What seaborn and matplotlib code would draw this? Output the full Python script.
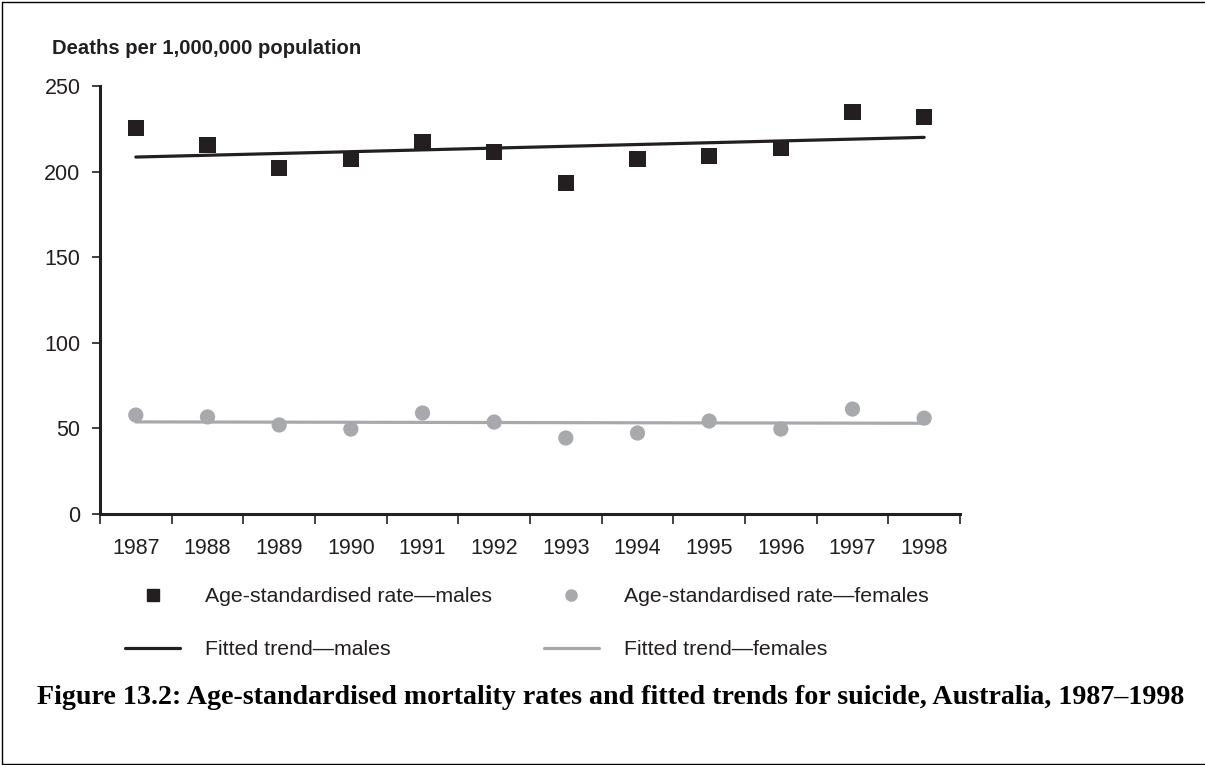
import matplotlib
matplotlib.use("Agg")
import matplotlib.pyplot as plt
from matplotlib.lines import Line2D
import seaborn as sns
import pandas as pd
import numpy as np

# ---- data ----
years = [1987, 1988, 1989, 1990, 1991, 1992, 1993, 1994, 1995, 1996, 1997, 1998]
males = [225.5, 215.5, 202.0, 207.4, 217.3, 211.4, 193.3, 207.4, 209.0, 213.8, 234.8, 231.9]
females = [57.8, 56.7, 52.0, 49.6, 59.0, 53.7, 44.4, 47.3, 54.3, 49.6, 61.3, 56.0]
trend_years = [1987, 1998]
trend_males = [208.5, 220.0]
trend_females = [53.8, 53.0]
y_ticks = [0, 50, 100, 150, 200, 250]

ylabel_text = "Deaths per 1,000,000 population"
legend_labels = ["Age-standardised rate\u2014males", "Fitted trend\u2014males",
                 "Age-standardised rate\u2014females", "Fitted trend\u2014females"]
caption = ("Figure 13.2: Age-standardised mortality rates and fitted trends for suicide, "
           "Australia, 1987\u20131998")

MALE_C = "#231f20"
FEMALE_C = "#a7a9ac"

sns.set_theme(style="white")
plt.rcParams["font.family"] = ["Liberation Sans", "DejaVu Sans"]

df = pd.DataFrame({"year": years, "males": males, "females": females})
tr = pd.DataFrame({"year": trend_years, "males": trend_males, "females": trend_females})

fig = plt.figure(figsize=(12.05, 7.65), dpi=100)
ax = fig.add_axes([100 / 1205, 1 - 514 / 765, 860 / 1205, 428 / 765])

sns.lineplot(data=tr, x="year", y="males", ax=ax, color=MALE_C, linewidth=2.3)
sns.lineplot(data=tr, x="year", y="females", ax=ax, color=FEMALE_C, linewidth=2.3)
sns.scatterplot(data=df, x="year", y="males", ax=ax, marker="s", s=135,
                color=MALE_C, edgecolor="none", zorder=3)
sns.scatterplot(data=df, x="year", y="females", ax=ax, marker="o", s=120,
                color=FEMALE_C, edgecolor="none", zorder=3)

ax.set_xlim(years[0] - 0.5, years[-1] + 0.5)
ax.set_ylim(0, 250)
ax.set_yticks(y_ticks)
ax.set_xticks(years)
ax.set_xticklabels([str(y) for y in years])
ax.set_xticks([y - 0.5 for y in years] + [years[-1] + 0.5], minor=True)
ax.tick_params(axis="x", which="major", length=0, pad=17.5, labelsize=15.5, colors="#231f20")
ax.tick_params(axis="x", which="minor", length=7, width=1.2, direction="out",
               color="#231f20", bottom=True)
ax.tick_params(axis="y", which="major", length=6, width=1.2, direction="out",
               labelsize=15.5, colors="#231f20", left=True, pad=8)
ax.set_xlabel("")
ax.set_ylabel("")
for side in ["top", "right"]:
    ax.spines[side].set_visible(False)
for side in ["left", "bottom"]:
    ax.spines[side].set_color("#231f20")
    ax.spines[side].set_linewidth(2.2)

fig.text(52 / 1205, 1 - 49 / 765, ylabel_text, fontsize=14.6, fontweight="bold",
         color="#231f20", va="center", ha="left")

handles = [
    Line2D([], [], marker="s", linestyle="none", color=MALE_C, markersize=8),
    Line2D([], [], color=MALE_C, linewidth=2.3),
    Line2D([], [], marker="o", linestyle="none", color=FEMALE_C, markersize=8),
    Line2D([], [], color=FEMALE_C, linewidth=2.3),
]
leg = fig.legend(handles, legend_labels, ncol=2, loc="upper left",
                 bbox_to_anchor=(125 / 1205, 1 - 587 / 765), frameon=False,
                 fontsize=15.3, handlelength=2.6, handletextpad=1.18,
                 columnspacing=2.42, labelspacing=1.62, borderpad=0, borderaxespad=0)
for t in leg.get_texts():
    t.set_color("#231f20")

fig.text(37 / 1205, 1 - 697 / 765, caption, fontsize=20.2, fontweight="bold",
         family=["Liberation Serif", "DejaVu Serif"], color="black",
         ha="left", va="center")

# border lines (left, top, bottom)
fig.add_artist(Line2D([2 / 1205, 2 / 1205], [1 - 2 / 765, 1 - 764 / 765],
                      transform=fig.transFigure, color="black", linewidth=1))
fig.add_artist(Line2D([2 / 1205, 1.0], [1 - 2 / 765, 1 - 2 / 765],
                      transform=fig.transFigure, color="black", linewidth=1))
fig.add_artist(Line2D([2 / 1205, 1.0], [1 - 764 / 765, 1 - 764 / 765],
                      transform=fig.transFigure, color="black", linewidth=1))

fig.savefig("out.png", dpi=100, facecolor="white")
